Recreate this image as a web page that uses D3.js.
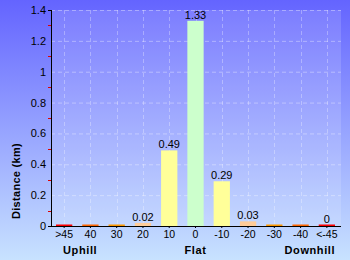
<!DOCTYPE html>
<html><head><meta charset="utf-8">
<script src="https://cdn.jsdelivr.net/npm/d3@7"></script>
<style>html,body{margin:0;padding:0;background:#fff}svg{display:block}</style>
</head><body><svg id="c" width="350" height="260"></svg>
<script>
const categories = [">45","40","30","20","10","0","-10","-20","-30","-40","<-45"];
const values = [0.004,0.004,0.004,0.02,0.49,1.33,0.29,0.03,0.004,0.004,0.004];
const valueLabels = ["","","","0.02","0.49","1.33","0.29","0.03","","","0"];
const barColors = ["#ff0000","#ff6600","#ff9900","#ffcc99","#ffff99","#ccffcc","#ffff99","#ffcc99","#ff9900","#ff6600","#ff0000"];
const yTicks = [0,0.2,0.4,0.6,0.8,1,1.2,1.4];
const yMinorTicks = [0.1,0.3,0.5,0.7,0.9,1.1,1.3];
const groupLabels = ["Uphill","Flat","Downhill"];
const groupAt = [">45","0","<-45"];

const svg = d3.select("#c");
const W = 350, H = 260;
const m = {l:51, r:341, t:10, b:226};
const font = "'Liberation Sans', Arial, sans-serif";

const defs = svg.append("defs");
const g = defs.append("linearGradient").attr("id","bg").attr("x1",0).attr("y1",0).attr("x2",0).attr("y2",1);
g.append("stop").attr("offset","0%").attr("stop-color","#6464ff");
g.append("stop").attr("offset","100%").attr("stop-color","#c8e2ff");
svg.append("rect").attr("width",W).attr("height",H).attr("fill","url(#bg)");
svg.append("rect").attr("x",m.l).attr("y",m.t).attr("width",m.r-m.l).attr("height",m.b-m.t)
  .attr("fill","#fff").attr("fill-opacity",0.14);

const x = d3.scaleBand().domain(categories).range([m.l, 340]).paddingInner(0.38).paddingOuter(0.19);
const y = d3.scaleLinear().domain([0,1.4]).range([m.b, m.t]);

// grid
svg.append("g").selectAll("line").data(yTicks.filter(d=>d>0)).join("line")
  .attr("x1",m.l).attr("x2",m.r).attr("y1",d=>y(d)+0.5).attr("y2",d=>y(d)+0.5)
  .attr("stroke","#fff").attr("stroke-opacity",0.35).attr("stroke-dasharray","4,3");
svg.append("g").selectAll("line").data(categories).join("line")
  .attr("x1",d=>Math.round(x(d)+x.bandwidth()/2)+0.5).attr("x2",d=>Math.round(x(d)+x.bandwidth()/2)+0.5)
  .attr("y1",m.t).attr("y2",m.b)
  .attr("stroke","#fff").attr("stroke-opacity",0.3).attr("stroke-dasharray","4,3");

// bars
svg.append("g").selectAll("rect").data(values).join("rect")
  .attr("x",(d,i)=>x(categories[i]))
  .attr("width",x.bandwidth())
  .attr("y",d=>Math.min(y(d), m.b-1.5))
  .attr("height",d=>Math.max(1.5, m.b-y(d)))
  .attr("fill",(d,i)=>barColors[i]);

// value labels
svg.append("g").selectAll("text").data(values).join("text")
  .attr("x",(d,i)=>x(categories[i])+x.bandwidth()/2)
  .attr("y",d=>Math.min(y(d), m.b-1.5)-2)
  .attr("text-anchor","middle").attr("font-family",font).attr("font-size","11px").attr("fill","#000")
  .text((d,i)=>valueLabels[i]);

// y axis
const ya = svg.append("g").attr("transform",`translate(${m.l},0)`)
  .call(d3.axisLeft(y).tickValues(yTicks).tickFormat(d3.format("~g")).tickSize(3).tickPadding(2));
ya.select(".domain").attr("stroke","#000");
ya.selectAll(".tick line").attr("stroke","#000").attr("x2",1);
ya.selectAll("text").attr("font-family",font).attr("font-size","11px").attr("fill","#000");
svg.append("g").selectAll("line").data(yMinorTicks).join("line")
  .attr("x1",m.l-3).attr("x2",m.l).attr("y1",d=>Math.round(y(d))+0.5).attr("y2",d=>Math.round(y(d))+0.5)
  .attr("stroke","#e00000");

// x axis
const xa = svg.append("g").attr("transform",`translate(0,${m.b})`)
  .call(d3.axisBottom(x).tickSize(2).tickPadding(3));
xa.select(".domain").attr("d",`M${m.l},0.5H${m.r}`).attr("stroke","#000");
xa.selectAll(".tick line").attr("stroke","#000");
xa.selectAll("text").attr("font-family",font).attr("font-size","10.5px").attr("fill","#000");

// group labels
svg.append("g").selectAll("text").data(groupLabels).join("text")
  .attr("x",(d,i)=>{const c=x(groupAt[i])+x.bandwidth()/2; return i===0?c+16:(i===2?c-17:c);})
  .attr("y",254).attr("text-anchor","middle")
  .attr("font-family",font).attr("font-weight","bold").attr("font-size","11px").attr("letter-spacing","0.6px")
  .text(d=>d);

// y title
svg.append("text").attr("transform","translate(20,181) rotate(-90)")
  .attr("text-anchor","middle").attr("font-family",font).attr("font-weight","bold").attr("font-size","11px")
  .attr("letter-spacing","0.3px").text("Distance (km)");
</script></body></html>
